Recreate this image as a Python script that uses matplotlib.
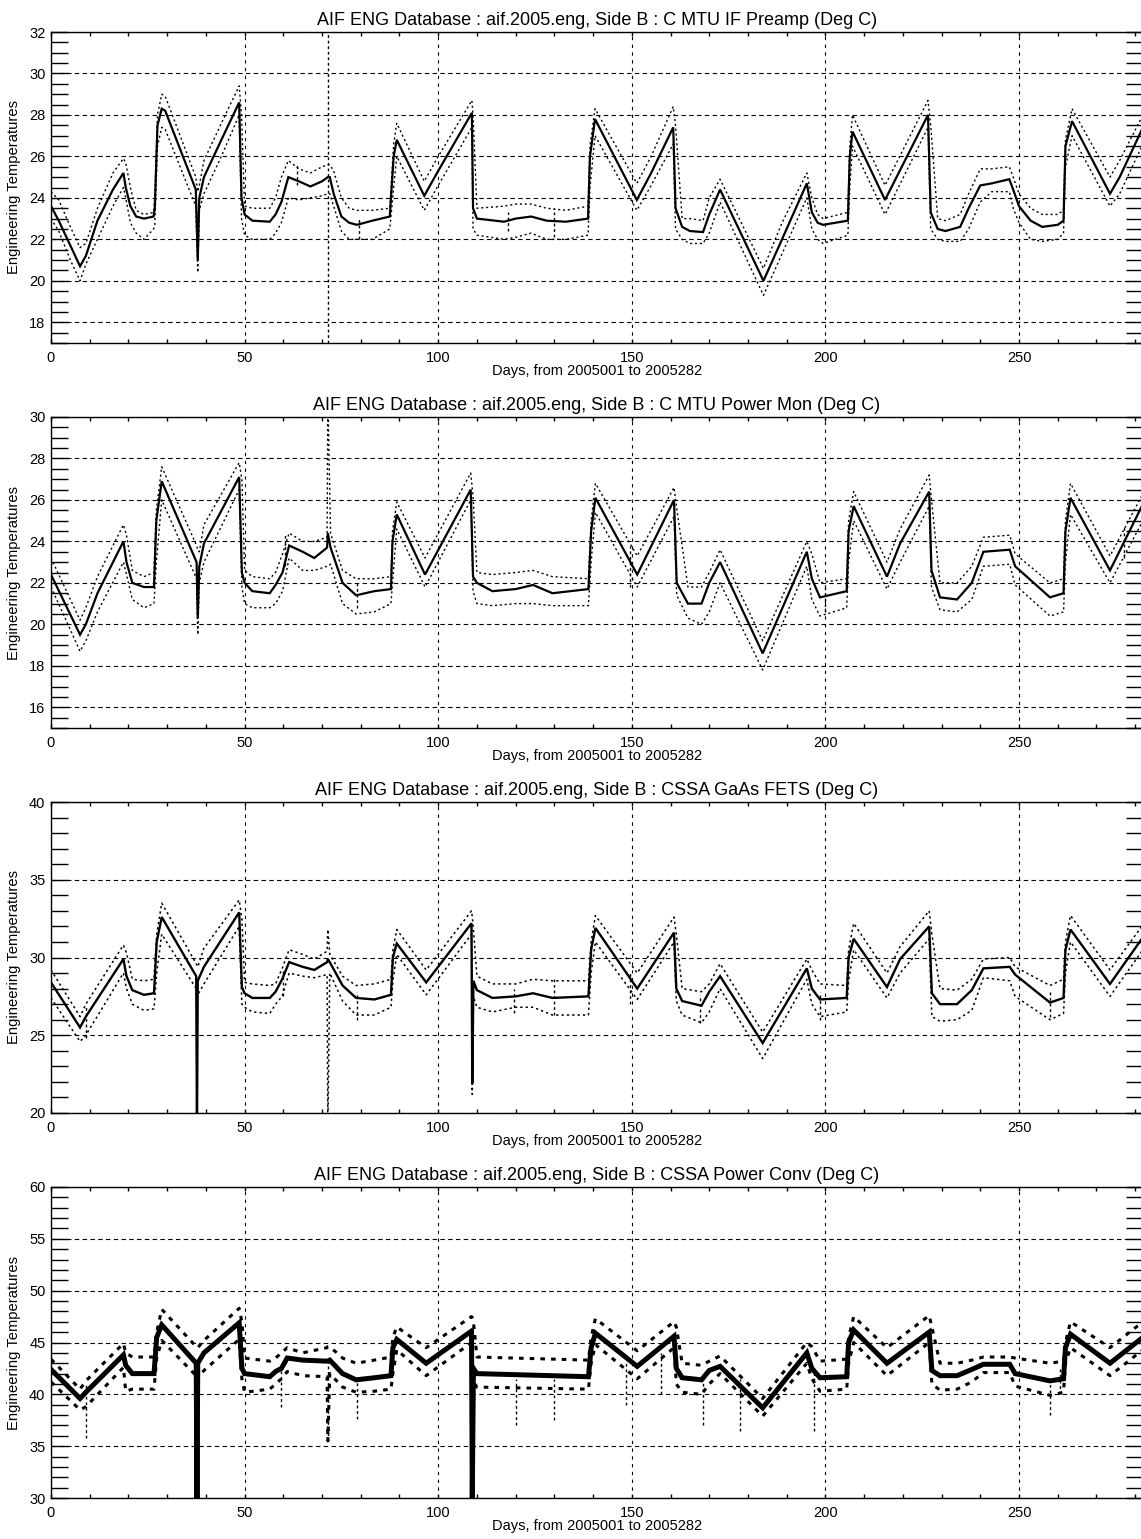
import matplotlib
matplotlib.use("Agg")
import matplotlib.pyplot as plt
from matplotlib.ticker import MultipleLocator

plt.rcParams['font.family'] = ['Liberation Sans', 'DejaVu Sans']

TITLE_PREFIX = "AIF ENG Database : aif.2005.eng, Side B : "
XLABEL = "Days, from 2005001 to 2005282"
YLABEL = "Engineering Temperatures"

# ---------------- C MTU IF Preamp ----------------
p1_days = [0, 2, 5, 7.5, 9, 12, 16, 18.7, 19.3, 20.5, 22, 24, 26.5, 26.8, 27.5, 28.6, 29.5,
           37.4, 37.9, 38.3, 39.5, 44, 48.6, 49.2, 50, 52, 56.5, 58, 59.5, 61.3, 64, 67, 70,
           71.5, 72, 73, 75, 77, 79, 83, 87.5, 88.5, 89.3, 96.4, 100, 108.7, 109, 110, 117,
           120, 124, 128, 133, 138.7, 139.2, 140.5, 151.3, 155, 160.7, 161.3, 163, 165, 168.4,
           170, 172.8, 184, 188.8, 195.2, 196.5, 198, 199.4, 205.8, 206.3, 207, 215.4, 226.5,
           227.2, 229, 231, 234.8, 237, 240, 243, 247.5, 248.5, 250, 253, 256, 260, 261.5,
           262, 263.7, 273.5, 276, 282]
p1_mean = [23.6, 22.9, 21.7, 20.7, 21.2, 22.9, 24.4, 25.2, 24.5, 23.6, 23.1, 23.0, 23.1, 23.5, 27.5, 28.3, 28.2,
           24.4, 21.0, 24.0, 25.0, 26.8, 28.6, 24.0, 23.2, 22.9, 22.85, 23.2, 23.8, 25.0, 24.8, 24.55, 24.8,
           25.0, 25.0, 24.2, 23.1, 22.8, 22.7, 22.9, 23.1, 26.0, 26.8, 24.1, 25.3, 28.1, 23.5, 23.0, 22.85,
           23.0, 23.1, 22.9, 22.85, 23.0, 26.0, 27.8, 23.9, 25.2, 27.4, 23.5, 22.6, 22.4, 22.35,
           23.2, 24.4, 20.0, 22.0, 24.7, 23.3, 22.8, 22.7, 22.9, 26.0, 27.2, 23.9, 28.0,
           23.3, 22.5, 22.4, 22.6, 23.5, 24.6, 24.7, 24.9, 24.4, 23.6, 22.9, 22.6, 22.7, 22.9,
           26.5, 27.7, 24.2, 25.0, 27.4]
p1_max = [24.3, 23.9, 22.6, 21.6, 21.8, 23.5, 25.2, 25.9, 25.7, 24.5, 23.4, 23.2, 23.3, 24.0, 28.0, 29.0, 28.9,
          25.0, 24.3, 24.6, 25.8, 27.6, 29.4, 28.0, 23.6, 23.5, 23.5, 24.0, 25.0, 25.8, 25.4, 25.2, 25.5,
          25.6, 25.6, 25.3, 24.0, 23.5, 23.4, 23.4, 23.5, 26.6, 27.6, 24.8, 26.0, 28.7, 28.0, 23.5, 23.6,
          23.7, 23.7, 23.5, 23.4, 23.6, 26.5, 28.3, 24.7, 26.0, 28.4, 27.5, 23.0, 23.0, 22.9,
          24.0, 24.9, 20.6, 22.8, 25.2, 24.0, 23.2, 23.0, 23.3, 26.5, 28.0, 24.6, 28.7,
          27.5, 23.0, 22.9, 23.2, 24.2, 25.4, 25.4, 25.5, 25.0, 24.2, 23.5, 23.2, 23.2, 23.4,
          26.8, 28.3, 25.0, 25.8, 28.0]
p1_min = [23.0, 22.4, 21.0, 20.0, 20.8, 22.0, 23.6, 24.5, 24.0, 22.8, 22.3, 22.0, 22.5, 22.7, 26.5, 27.4, 27.3,
          23.6, 20.4, 23.4, 24.2, 26.0, 28.0, 23.0, 22.2, 22.0, 22.0, 22.3, 22.8, 24.0, 23.9, 24.0, 24.1,
          24.2, 24.2, 23.6, 22.4, 22.0, 22.0, 22.0, 22.5, 24.5, 26.0, 23.4, 24.6, 27.4, 22.5, 22.2, 22.0,
          22.1, 22.3, 22.0, 22.0, 22.2, 24.5, 27.0, 23.4, 24.6, 26.6, 22.5, 22.0, 21.8, 21.8,
          22.3, 23.8, 19.3, 21.3, 24.0, 22.5, 22.0, 21.8, 22.2, 24.5, 26.5, 23.2, 27.4,
          22.5, 22.0, 21.9, 21.9, 22.5, 23.8, 24.3, 24.3, 23.5, 22.8, 22.0, 21.9, 22.0, 22.3,
          25.5, 27.0, 23.6, 24.2, 26.6]
p1_spike_days = [71.5, 63.5, 79.5, 118, 130]
p1_spike_lo = [17.0, 24.6, 22.0, 22.4, 22.1]
p1_spike_hi = [32.0, 25.6, 23.1, 23.3, 23.5]

# ---------------- C MTU Power Mon ----------------
p2_days = [0, 7.5, 9, 12, 18.7, 19.5, 21, 24, 26.6, 27.2, 28.6, 37.6, 37.9, 38.3, 39.5, 48.6, 49.3,
           50, 52, 56.5, 58, 59.8, 61.5, 65, 68, 71.3, 71.5, 72.2, 75.3, 78.8, 83.5, 87.8, 88.2, 89.3,
           96.6, 108.4, 109, 110, 114, 120, 124.5, 129.5, 138.8, 139.5, 140.6, 151.4, 160.9, 161.6,
           164.5, 168, 170, 172.8, 183.8, 195.2, 196.5, 198.6, 205.5, 206, 207.3, 215.9, 219.3,
           226.8, 227.4, 229.6, 234, 237.8, 240.8, 247.6, 249, 258, 261.5, 262, 263.3, 273.5, 282]
p2_mean = [22.4, 19.5, 20.0, 21.5, 24.0, 23.0, 22.0, 21.8, 21.8, 25.0, 26.9, 23.0, 20.3, 22.8, 23.9, 27.1, 22.5,
           22.0, 21.6, 21.5, 21.9, 22.5, 23.8, 23.5, 23.2, 23.7, 24.4, 23.7, 22.0, 21.4, 21.6, 21.7, 24.0, 25.3,
           22.4, 26.5, 22.3, 22.0, 21.6, 21.7, 21.9, 21.5, 21.7, 24.5, 26.1, 22.4, 26.0, 22.0,
           21.0, 21.0, 22.0, 23.0, 18.6, 23.5, 22.2, 21.3, 21.6, 24.5, 25.7, 22.3, 23.9,
           26.4, 22.6, 21.3, 21.2, 22.0, 23.5, 23.6, 22.8, 21.3, 21.5, 24.5, 26.1, 22.6, 25.8]
p2_max = [23.2, 20.2, 20.8, 22.3, 24.8, 24.3, 22.6, 22.3, 22.5, 25.5, 27.6, 23.8, 23.6, 23.5, 24.8, 27.8, 27.0,
          22.6, 22.3, 22.2, 22.5, 23.4, 24.4, 24.0, 24.0, 24.2, 31.0, 24.4, 22.6, 22.2, 22.2, 22.3, 24.5, 25.9,
          23.2, 27.3, 26.2, 22.5, 22.4, 22.5, 22.6, 22.3, 22.2, 25.0, 26.8, 23.3, 26.6, 25.6,
          21.8, 21.8, 22.5, 23.6, 19.2, 24.0, 23.4, 22.0, 22.2, 25.0, 26.4, 23.0, 24.6,
          27.2, 26.0, 22.0, 22.0, 22.8, 24.2, 24.3, 23.4, 22.0, 22.2, 25.0, 26.8, 23.3, 26.3]
p2_min = [21.8, 18.7, 19.2, 20.6, 23.0, 22.4, 21.2, 20.8, 21.0, 23.0, 26.0, 22.2, 19.5, 22.0, 23.0, 26.5, 21.8,
          21.0, 20.8, 20.8, 21.0, 21.6, 23.2, 22.6, 22.6, 22.8, 22.8, 22.9, 21.0, 20.5, 20.6, 21.0, 22.0, 24.6,
          21.8, 26.0, 21.6, 21.0, 20.9, 21.0, 21.0, 20.9, 20.9, 23.0, 25.4, 21.8, 25.2, 21.4,
          20.3, 20.0, 20.6, 22.0, 17.8, 22.8, 21.2, 20.4, 20.8, 23.0, 25.0, 21.7, 23.0,
          25.7, 21.8, 20.7, 20.6, 21.2, 22.8, 22.9, 21.9, 20.4, 20.6, 23.0, 25.3, 22.0, 25.0]
p2_spike_days = [60.5, 79.0, 149.5, 200, 277]
p2_spike_lo = [22.8, 20.8, 21.8, 20.6, 23.2]
p2_spike_hi = [24.3, 22.0, 23.8, 21.8, 24.8]

# ---------------- CSSA GaAs FETS ----------------
p3_days = [0, 7.5, 9, 18.7, 19.5, 21, 24, 26.6, 27.3, 28.6, 37.5, 37.7, 37.9, 39.5, 48.6, 49.3, 50, 52,
           56.5, 58, 59.7, 61.5, 65, 68, 71.3, 71.5, 72, 75.3, 78.8, 83.5, 87.8, 88.3, 89.3, 96.9,
           108.6, 108.8, 109.1, 110, 114, 120, 124.5, 129.5, 138.8, 139.5, 140.6, 151.4, 160.9,
           161.5, 163, 168, 170, 172.8, 183.8, 195.2, 196.5, 198.6, 205.5, 206, 207.3, 215.9,
           219.3, 226.8, 227.5, 229.6, 234, 237.8, 240.8, 247.6, 249, 258, 261.5, 262, 263.3, 273.5, 282]
p3_mean = [28.4, 25.5, 26.2, 29.9, 28.8, 27.9, 27.6, 27.7, 31.0, 32.6, 28.8, 19.0, 28.5, 29.4, 32.9, 28.1, 27.7, 27.4,
           27.4, 27.8, 28.6, 29.7, 29.4, 29.2, 29.7, 29.9, 29.7, 28.2, 27.4, 27.3, 27.6, 30.0, 30.9, 28.4,
           32.2, 21.9, 28.5, 27.9, 27.4, 27.5, 27.7, 27.4, 27.5, 30.5, 31.9, 28.0, 31.6,
           28.0, 27.2, 26.9, 27.8, 28.8, 24.5, 29.3, 28.0, 27.3, 27.4, 30.0, 31.2, 28.1,
           29.9, 32.0, 27.7, 27.0, 27.0, 27.9, 29.3, 29.4, 28.9, 27.1, 27.4, 30.5, 31.8, 28.3, 31.3]
p3_max = [29.2, 26.2, 27.0, 30.8, 30.3, 28.6, 28.5, 28.6, 31.5, 33.5, 29.6, 29.5, 29.4, 30.6, 33.7, 32.5, 28.4, 28.3,
          28.2, 28.3, 29.3, 30.5, 30.2, 29.9, 30.4, 31.8, 30.2, 28.8, 28.2, 28.3, 28.6, 30.5, 31.8, 29.2,
          33.0, 32.6, 31.8, 28.8, 28.3, 28.3, 28.6, 28.5, 28.5, 31.0, 32.7, 29.0, 32.6,
          31.5, 28.0, 27.8, 28.3, 29.6, 25.2, 29.9, 29.2, 28.3, 28.2, 30.5, 32.2, 29.0,
          30.7, 33.0, 31.5, 28.0, 27.9, 28.6, 29.9, 30.0, 29.4, 28.2, 28.6, 31.0, 32.7, 29.2, 32.1]
p3_min = [27.4, 24.6, 25.0, 29.0, 28.0, 27.0, 26.6, 26.7, 29.0, 31.5, 28.0, 27.8, 27.6, 28.3, 32.0, 27.0, 26.8, 26.5,
          26.4, 27.0, 27.5, 29.0, 28.8, 28.7, 28.9, 19.0, 29.0, 27.2, 26.3, 26.3, 26.8, 28.5, 30.2, 27.6,
          31.5, 21.2, 27.5, 26.8, 26.5, 26.8, 26.8, 26.3, 26.3, 29.0, 31.0, 27.3, 31.0,
          27.2, 26.3, 25.8, 26.5, 28.0, 23.5, 28.6, 27.0, 26.2, 26.5, 28.5, 30.5, 27.4,
          29.0, 31.2, 26.2, 25.9, 26.0, 26.6, 28.7, 28.5, 27.5, 26.0, 26.4, 29.0, 31.0, 27.5, 30.5]
p3_spike_days = [9.0, 60.0, 79.0, 119.5, 130.0, 149.5, 167.5, 198.5, 258.0]
p3_spike_lo = [24.8, 27.5, 26.0, 26.4, 26.3, 27.0, 25.8, 26.0, 26.2]
p3_spike_hi = [26.8, 29.2, 27.8, 28.0, 28.6, 29.0, 27.6, 27.8, 27.8]

# ---------------- CSSA Power Conv ----------------
p4_days = [0, 7.5, 9, 18.7, 19.3, 21, 26.6, 27.3, 28.6, 37.5, 37.7, 37.9, 39.5, 48.6, 49.3, 50, 56.5,
           58, 59.5, 61, 65, 71.3, 71.5, 72, 75.3, 78.8, 83.5, 87.8, 88.3, 89.3, 96.9, 108.6, 108.8,
           109.1, 110, 138.8, 139.5, 140.6, 151.4, 160.9, 161.5, 163, 168, 170, 172.8, 183.8,
           195.2, 196.5, 198.6, 205.5, 206, 207.3, 215.9, 226.8, 227.5, 229.6, 234, 237.8, 240.8,
           247.6, 249, 258, 261.5, 262, 263.3, 273.5, 282]
p4_mean = [42.4, 39.6, 40.2, 43.8, 42.8, 42.0, 42.0, 45.5, 46.7, 43.0, 30.0, 43.0, 44.0, 46.9, 42.5, 42.0, 41.7,
           42.2, 42.5, 43.5, 43.3, 43.2, 43.2, 43.3, 42.0, 41.4, 41.6, 41.8, 44.5, 45.3, 43.0, 46.1, 30.0,
           42.5, 42.0, 41.7, 44.5, 45.9, 42.7, 45.6, 42.5, 41.6, 41.4, 42.3, 42.7, 38.7,
           44.0, 42.5, 41.6, 41.7, 45.0, 46.2, 43.0, 46.0, 42.3, 41.8, 41.8, 42.4, 42.9,
           42.9, 42.0, 41.3, 41.5, 44.5, 45.8, 43.0, 45.5]
p4_max = [43.4, 40.5, 41.3, 44.9, 44.0, 43.6, 43.6, 46.0, 48.2, 44.6, 44.5, 44.5, 45.2, 48.3, 47.0, 43.5, 43.2,
          43.5, 44.0, 44.5, 44.0, 44.5, 44.6, 44.6, 43.5, 43.0, 43.3, 43.6, 45.5, 46.5, 44.5, 47.5, 47.4,
          47.0, 43.6, 43.3, 45.5, 47.3, 44.2, 47.0, 46.5, 43.0, 42.8, 43.2, 43.7, 39.6,
          45.0, 44.6, 43.2, 43.4, 45.5, 47.5, 44.5, 47.6, 46.5, 43.0, 43.0, 43.3, 43.6,
          43.6, 43.5, 43.0, 43.2, 45.0, 47.0, 44.5, 47.0]
p4_min = [41.2, 38.5, 38.8, 42.6, 40.3, 40.5, 40.5, 43.5, 45.2, 41.8, 30.0, 41.6, 42.3, 45.3, 41.5, 40.2, 40.5,
          41.0, 41.5, 42.2, 41.8, 41.7, 35.5, 42.0, 40.7, 40.2, 40.3, 40.5, 42.0, 44.3, 41.8, 45.0, 30.0,
          41.2, 40.7, 40.5, 43.0, 44.8, 41.5, 44.5, 41.0, 40.2, 40.0, 41.0, 42.0, 37.9,
          43.0, 41.5, 40.3, 40.5, 43.0, 45.0, 41.8, 45.0, 41.0, 40.4, 40.5, 41.2, 42.1,
          42.1, 40.8, 39.9, 40.2, 43.0, 44.5, 41.8, 44.3]
p4_spike_days = [9.0, 59.3, 71.5, 79.0, 120.0, 130.0, 148.5, 157.5, 168.5, 178.0, 197.0, 258.0, 260.5]
p4_spike_lo = [35.8, 38.8, 35.5, 37.6, 37.0, 37.5, 39.0, 40.0, 37.0, 36.5, 36.5, 38.0, 40.0]
p4_spike_hi = [41.0, 42.5, 43.5, 41.5, 41.5, 41.5, 43.0, 44.0, 41.5, 41.5, 42.5, 41.5, 42.5]

panels = [
    dict(name="C MTU IF Preamp", days=p1_days, mean=p1_mean, hi=p1_max, lo=p1_min,
         sd=p1_spike_days, slo=p1_spike_lo, shi=p1_spike_hi,
         ylim=(17, 32), major=2, minor=0.5, mlw=1.6, elw=1.0),
    dict(name="C MTU Power Mon", days=p2_days, mean=p2_mean, hi=p2_max, lo=p2_min,
         sd=p2_spike_days, slo=p2_spike_lo, shi=p2_spike_hi,
         ylim=(15, 30), major=2, minor=0.5, mlw=1.6, elw=1.0),
    dict(name="CSSA GaAs FETS", days=p3_days, mean=p3_mean, hi=p3_max, lo=p3_min,
         sd=p3_spike_days, slo=p3_spike_lo, shi=p3_spike_hi,
         ylim=(20, 40), major=5, minor=1, mlw=1.7, elw=1.1),
    dict(name="CSSA Power Conv", days=p4_days, mean=p4_mean, hi=p4_max, lo=p4_min,
         sd=p4_spike_days, slo=p4_spike_lo, shi=p4_spike_hi,
         ylim=(30, 60), major=5, minor=1, mlw=3.6, elw=2.2),
]

W, H = 1141, 1539
fig = plt.figure(figsize=(W / 100, H / 100), dpi=100)

left_px, top0_px, step_px, height_px = 51, 32, 385, 311
xmax = 282
px_per_day = 3.872
width_px = xmax * px_per_day
PT = 72 / 100  # points per pixel at 100 dpi

for i, p in enumerate(panels):
    top = top0_px + i * step_px
    ax = fig.add_axes([left_px / W, 1 - (top + height_px) / H, width_px / W, height_px / H])
    ax.set_xlim(0, xmax)
    ax.set_ylim(*p["ylim"])

    ax.xaxis.set_major_locator(MultipleLocator(50))
    ax.xaxis.set_minor_locator(MultipleLocator(10))
    ax.yaxis.set_major_locator(MultipleLocator(p["major"]))
    ax.yaxis.set_minor_locator(MultipleLocator(p["minor"]))
    ax.grid(True, which="major", axis="y", color="black", linestyle=(0, (4, 3)), linewidth=0.8)
    ax.grid(True, which="major", axis="x", color="black", linestyle=(0, (3, 4)), linewidth=0.8)

    ax.plot(p["days"], p["hi"], color="black", linestyle=(0, (1.5, 2)), linewidth=p["elw"])
    ax.plot(p["days"], p["lo"], color="black", linestyle=(0, (1.5, 2)), linewidth=p["elw"])
    ax.vlines(p["sd"], p["slo"], p["shi"], color="black", linestyle=(0, (2, 2)), linewidth=1.0)
    ax.plot(p["days"], p["mean"], color="black", linewidth=p["mlw"], solid_joinstyle="miter")

    ax.tick_params(axis="x", which="both", direction="in", top=True, bottom=True,
                   length=4 * PT, width=1.0, labelsize=10.5, pad=6)
    ax.tick_params(axis="y", which="both", direction="in", left=True, right=True,
                   length=17 * PT, width=1.0, labelsize=10.5, pad=4)
    for s in ax.spines.values():
        s.set_linewidth(1.0)

    ax.set_title(TITLE_PREFIX + p["name"] + " (Deg C)", fontsize=13, pad=5)
    ax.set_xlabel(XLABEL, fontsize=10.5, labelpad=-1)
    ax.set_ylabel(YLABEL, fontsize=10.6, labelpad=6)

fig.savefig("out.png", dpi=100)
